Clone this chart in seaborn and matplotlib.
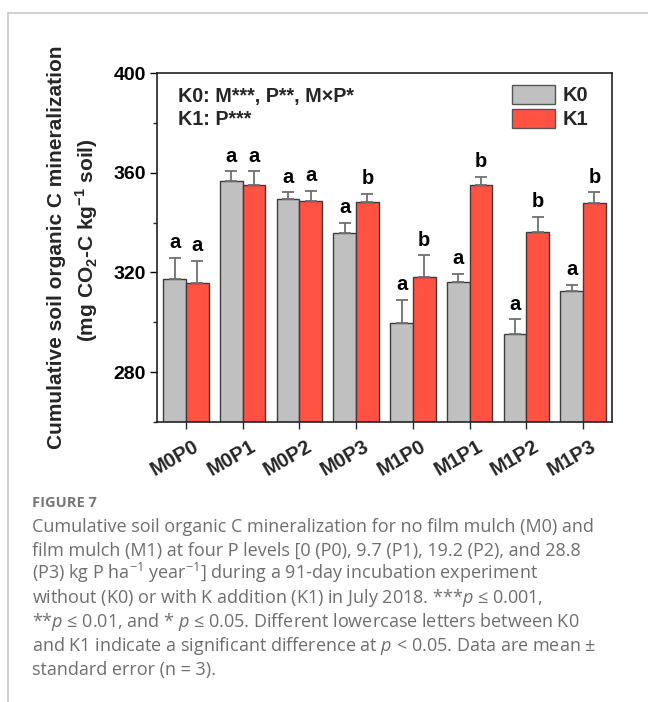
import matplotlib
matplotlib.use("Agg")
import matplotlib.pyplot as plt
import matplotlib.transforms as mtransforms
from matplotlib.lines import Line2D
from matplotlib.ticker import MultipleLocator
import numpy as np
import pandas as pd
import seaborn as sns

# ---------------- data ----------------
treatments = ["M0P0", "M0P1", "M0P2", "M0P3", "M1P0", "M1P1", "M1P2", "M1P3"]
k0_mean = [317.3, 356.5, 349.4, 336.0, 299.6, 316.3, 295.2, 312.7]
k0_se = [8.4, 4.0, 2.7, 3.8, 9.4, 3.2, 6.0, 2.2]
k1_mean = [315.9, 354.9, 348.8, 348.3, 318.3, 355.1, 336.4, 347.8]
k1_se = [8.8, 5.6, 4.0, 3.1, 8.5, 3.1, 6.0, 4.3]
k0_letters = ["a", "a", "a", "a", "a", "a", "a", "a"]
k1_letters = ["a", "a", "a", "b", "b", "b", "b", "b"]
groups = ["K0", "K1"]
yticks = [280, 320, 360, 400]

# ---------------- style ----------------
sns.set_theme(style="ticks")
plt.rcParams["font.family"] = ["Liberation Sans", "DejaVu Sans"]
plt.rcParams["font.weight"] = "normal"
plt.rcParams["mathtext.fontset"] = "custom"
plt.rcParams["mathtext.rm"] = "Open Sans:weight=normal"
plt.rcParams["mathtext.it"] = "Open Sans:style=italic:weight=normal"
plt.rcParams["mathtext.bf"] = "Liberation Sans:weight=bold"

colors = {"K0": "#C0C0C0", "K1": "#FF5242"}

df = pd.DataFrame({
    "treatment": treatments * 2,
    "group": ["K0"] * len(treatments) + ["K1"] * len(treatments),
    "value": k0_mean + k1_mean,
})

fig = plt.figure(figsize=(6.48, 7.02), dpi=100)
ax = fig.add_axes([157 / 648, 1 - 422 / 702, (612 - 157) / 648, (422 - 73) / 702])

sns.barplot(data=df, x="treatment", y="value", hue="group", order=treatments,
            hue_order=groups, palette=colors, errorbar=None, width=0.8,
            saturation=1, edgecolor="#3c3c3c", linewidth=1.0, ax=ax, legend=False)

ses = [k0_se, k1_se]
means = [k0_mean, k1_mean]
letters = [k0_letters, k1_letters]
bar_conts = list(ax.containers)
for ci, cont in enumerate(bar_conts):
    xs = [p.get_x() + p.get_width() / 2 for p in cont.patches]
    ax.errorbar(xs, means[ci], yerr=[np.zeros(len(xs)), ses[ci]], fmt="none",
                ecolor="#707070", elinewidth=1.3, capsize=4, capthick=1.3, zorder=3)
    for x, m, s, lt in zip(xs, means[ci], ses[ci], letters[ci]):
        ax.annotate(lt, (x, m + s), xytext=(0, 7), textcoords="offset points",
                    ha="center", va="baseline", fontsize=14.5, fontweight="bold",
                    color="black")

ax.set_ylim(260, 400)
ax.set_xlim(-0.51, 7.51)
ax.set_yticks(yticks)
ax.yaxis.set_minor_locator(MultipleLocator(20))
ax.set_xlabel("")
ax.set_ylabel("")
ax.tick_params(axis="y", which="major", direction="out", length=5, width=1.0,
               labelsize=14, pad=3, colors="black")
ax.tick_params(axis="y", which="minor", direction="out", length=3, width=1.0)
ax.tick_params(axis="x", which="major", direction="out", length=5, width=1.0,
               labelsize=14.5, pad=2)
for sp in ax.spines.values():
    sp.set_visible(True)
    sp.set_color("#222222")
    sp.set_linewidth(1.2)

offset = mtransforms.ScaledTranslation(16 / 100, -5 / 100, fig.dpi_scale_trans)
for lab in ax.get_xticklabels():
    lab.set_rotation(30)
    lab.set_ha("right")
    lab.set_va("top")
    lab.set_fontweight("bold")
    lab.set_transform(lab.get_transform() + offset)
for lab in ax.get_yticklabels():
    lab.set_fontweight("bold")

# legend
handles = [plt.Rectangle((0, 0), 1, 1, facecolor=colors[g], edgecolor="#555555", linewidth=1.0)
           for g in groups]
ax.legend(handles, groups, loc="upper left", bbox_to_anchor=(512 / 648, 1 - 85 / 702),
          bbox_transform=fig.transFigure, frameon=False,
          prop={"weight": "bold", "size": 14.5}, handlelength=2.15, handleheight=1.05,
          labelspacing=0.2, handletextpad=0.35, borderpad=0, borderaxespad=0)

# statistics annotation
fig.text(178 / 648, 1 - 101.7 / 702, "K0: M***, P**, M×P*", fontsize=14.2,
         fontweight="bold", va="baseline", ha="left")
fig.text(178 / 648, 1 - 125 / 702, "K1: P***", fontsize=14.2,
         fontweight="bold", va="baseline", ha="left")

# y label (two lines)
fig.text(57 / 648, 1 - 247.5 / 702, "Cumulative soil organic C mineralization",
         rotation=90, ha="center", va="center", fontsize=15, fontweight="bold")
fig.text(87 / 648, 1 - 240 / 702, r"(mg CO$_\mathbf{2}$-C kg$^\mathbf{-1}$ soil)",
         rotation=90, ha="center", va="center", fontsize=15, fontweight="bold")

# frame lines
fig.add_artist(Line2D([8 / 648, 1.0], [1 - 12.5 / 702, 1 - 12.5 / 702],
                      transform=fig.transFigure, color="#c8c8c8", linewidth=1.2))
fig.add_artist(Line2D([8 / 648, 8 / 648], [0.0, 1 - 12.5 / 702],
                      transform=fig.transFigure, color="#c8c8c8", linewidth=1.2))

# caption
cap_color = "#6e6e6e"
fig.text(32 / 648, 1 - 506.7 / 702, "FIGURE 7", fontsize=10.5, color="#777777",
         fontweight="bold", family=["Open Sans", "DejaVu Sans"], va="baseline")
caption_lines = [
    "Cumulative soil organic C mineralization for no film mulch (M0) and",
    "film mulch (M1) at four P levels [0 (P0), 9.7 (P1), 19.2 (P2), and 28.8",
    r"(P3) kg P ha$^{-1}$ year$^{-1}$] during a 91-day incubation experiment",
    r"without (K0) or with K addition (K1) in July 2018. ***$p$ ≤ 0.001,",
    r"**$p$ ≤ 0.01, and * $p$ ≤ 0.05. Different lowercase letters between K0",
    r"and K1 indicate a significant difference at $p$ < 0.05. Data are mean ±",
    "standard error (n = 3).",
]
base = 531.7
for i, line in enumerate(caption_lines):
    fig.text(32 / 648, 1 - (base + 23.8 * i) / 702, line, fontsize=13,
             color=cap_color, fontweight="normal",
             family=["Open Sans", "DejaVu Sans"], va="baseline", ha="left")

fig.savefig("out.png", dpi=100)
